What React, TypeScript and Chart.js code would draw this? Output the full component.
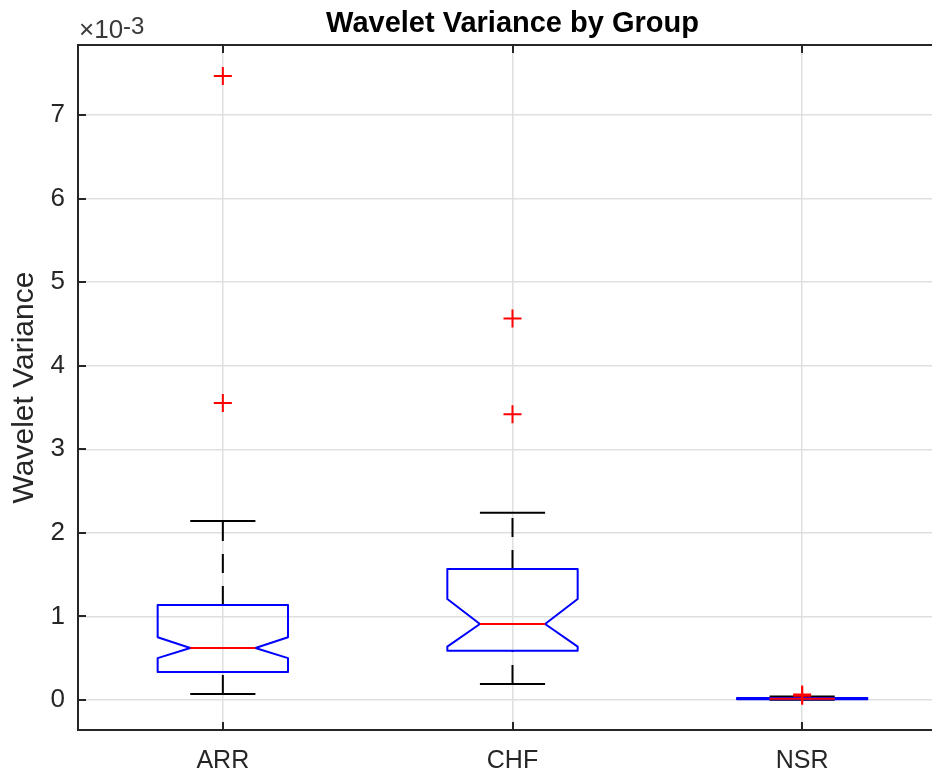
import React, { useEffect, useRef } from "react";
import { Chart, registerables } from "chart.js";

Chart.register(...registerables);

// ---- data (values in the data's own units; axis shows them ×10^-3) ----
const categories = ["ARR", "CHF", "NSR"];
const lowerWhisker = [0.072e-3, 0.191e-3, 0.002e-3];
const q1 = [0.335e-3, 0.59e-3, 0.008e-3];
const notchLow = [0.5e-3, 0.638e-3, 0.01e-3];
const median = [0.622e-3, 0.909e-3, 0.014e-3];
const notchHigh = [0.75e-3, 1.209e-3, 0.018e-3];
const q3 = [1.137e-3, 1.568e-3, 0.022e-3];
const upperWhisker = [2.142e-3, 2.241e-3, 0.04e-3];
const outliersARR = [7.47e-3, 3.554e-3];
const outliersCHF = [4.567e-3, 3.419e-3];
const outliersNSR = [0.05e-3, 0.065e-3];
const yTickLabels = [0, 1, 2, 3, 4, 5, 6, 7];

const FONT = '"Liberation Sans", Arial, Helvetica, sans-serif';
const AXIS_COLOR = "#262626";
const GRID_COLOR = "#dfdfdf";
const BOX_HALF = 0.225; // in category units

const outlierPoints = [
  ...outliersARR.map((v) => ({ x: 1, y: v })),
  ...outliersCHF.map((v) => ({ x: 2, y: v })),
  ...outliersNSR.map((v) => ({ x: 3, y: v })),
];

const boxPlugin = {
  id: "boxplotDraw",
  beforeDatasetsDraw(chart: any) {
    const { ctx, chartArea: a, scales } = chart;
    const x = scales.x;
    const y = scales.y;
    ctx.save();

    // axes box
    ctx.strokeStyle = AXIS_COLOR;
    ctx.lineWidth = 2;
    ctx.setLineDash([]);
    ctx.strokeRect(a.left, a.top, a.right - a.left, a.bottom - a.top);

    // inward ticks
    ctx.lineWidth = 2;
    yTickLabels.forEach((t) => {
      const py = Math.round(y.getPixelForValue(t * 1e-3));
      ctx.beginPath();
      ctx.moveTo(a.left, py);
      ctx.lineTo(a.left + 8, py);
      ctx.moveTo(a.right, py);
      ctx.lineTo(a.right - 8, py);
      ctx.stroke();
    });
    categories.forEach((_, i) => {
      const px = Math.round(x.getPixelForValue(i + 1));
      ctx.beginPath();
      ctx.moveTo(px, a.bottom);
      ctx.lineTo(px, a.bottom - 8);
      ctx.moveTo(px, a.top);
      ctx.lineTo(px, a.top + 8);
      ctx.stroke();
    });

    // box plots
    categories.forEach((_, i) => {
      const cx = x.getPixelForValue(i + 1);
      const hw = x.getPixelForValue(i + 1 + BOX_HALF) - cx;
      const yq1 = y.getPixelForValue(q1[i]);
      const yq3 = y.getPixelForValue(q3[i]);
      const ymed = y.getPixelForValue(median[i]);
      const ynl = y.getPixelForValue(notchLow[i]);
      const ynh = y.getPixelForValue(notchHigh[i]);
      const ylw = y.getPixelForValue(lowerWhisker[i]);
      const yuw = y.getPixelForValue(upperWhisker[i]);

      // whiskers (dashed, black)
      ctx.strokeStyle = "#000000";
      ctx.lineWidth = 2;
      ctx.setLineDash([19, 13]);
      ctx.beginPath();
      ctx.moveTo(cx, yq3);
      ctx.lineTo(cx, yuw);
      ctx.stroke();
      ctx.beginPath();
      ctx.moveTo(cx, ylw);
      ctx.lineTo(cx, yq1);
      ctx.stroke();
      ctx.setLineDash([]);
      // caps
      ctx.beginPath();
      ctx.moveTo(cx - hw / 2, yuw);
      ctx.lineTo(cx + hw / 2, yuw);
      ctx.moveTo(cx - hw / 2, ylw);
      ctx.lineTo(cx + hw / 2, ylw);
      ctx.stroke();

      // notched box
      ctx.strokeStyle = "#0000ff";
      ctx.lineWidth = 2;
      ctx.lineJoin = "round";
      ctx.beginPath();
      ctx.moveTo(cx - hw, yq1);
      ctx.lineTo(cx - hw, ynl);
      ctx.lineTo(cx - hw / 2, ymed);
      ctx.lineTo(cx - hw, ynh);
      ctx.lineTo(cx - hw, yq3);
      ctx.lineTo(cx + hw, yq3);
      ctx.lineTo(cx + hw, ynh);
      ctx.lineTo(cx + hw / 2, ymed);
      ctx.lineTo(cx + hw, ynl);
      ctx.lineTo(cx + hw, yq1);
      ctx.closePath();
      ctx.stroke();

      // median
      ctx.strokeStyle = "#ff0000";
      ctx.beginPath();
      ctx.moveTo(cx - hw / 2, ymed);
      ctx.lineTo(cx + hw / 2, ymed);
      ctx.stroke();
    });
    ctx.restore();
  },
  afterDraw(chart: any) {
    const { ctx, chartArea: a } = chart;
    ctx.save();
    // title
    ctx.fillStyle = "#000000";
    ctx.font = `bold 29px ${FONT}`;
    ctx.textAlign = "center";
    ctx.textBaseline = "alphabetic";
    ctx.fillText("Wavelet Variance by Group", (a.left + a.right) / 2, 32);
    // exponent label
    ctx.fillStyle = "#3a3a3a";
    ctx.textAlign = "left";
    ctx.font = `26px ${FONT}`;
    ctx.fillText("×10", a.left + 1, 38);
    const w = ctx.measureText("×10").width;
    ctx.font = `24px ${FONT}`;
    ctx.fillText("-3", a.left + 1 + w, 34);
    ctx.restore();
  },
};

export default function App() {
  const canvasRef = useRef<HTMLCanvasElement | null>(null);

  useEffect(() => {
    const canvas = canvasRef.current;
    if (!canvas) return;
    const chart = new Chart(canvas, {
      type: "scatter",
      data: {
        datasets: [
          {
            data: outlierPoints,
            pointStyle: "cross",
            radius: 9,
            hoverRadius: 9,
            borderColor: "#ff0000",
            backgroundColor: "#ff0000",
            borderWidth: 2,
            showLine: false,
          } as any,
        ],
      },
      options: {
        animation: false,
        responsive: false,
        devicePixelRatio: 1,
        events: [],
        layout: { padding: { left: 0, top: 45, right: 13, bottom: 0 } },
        plugins: {
          legend: { display: false },
          tooltip: { enabled: false },
          title: { display: false },
        },
        scales: {
          x: {
            type: "linear",
            min: 0.5,
            max: 3.5,
            afterBuildTicks: (s: any) => {
              s.ticks = categories.map((_, i) => ({ value: i + 1 }));
            },
            afterFit: (s: any) => {
              s.height = 42;
            },
            grid: { color: GRID_COLOR, lineWidth: 1.5, drawTicks: false },
            border: { display: false },
            ticks: {
              callback: (v: any) => categories[Math.round(Number(v)) - 1] ?? "",
              font: { family: FONT, size: 25 },
              color: AXIS_COLOR,
              padding: 16,
              autoSkip: false,
              maxRotation: 0,
            },
          },
          y: {
            type: "linear",
            min: -0.36e-3,
            max: 7.84e-3,
            afterBuildTicks: (s: any) => {
              s.ticks = yTickLabels.map((t) => ({ value: t * 1e-3 }));
            },
            afterFit: (s: any) => {
              s.width = 78;
            },
            grid: { color: GRID_COLOR, lineWidth: 1.5, drawTicks: false },
            border: { display: false },
            ticks: {
              callback: (v: any) => String(Math.round(Number(v) * 1000)),
              font: { family: FONT, size: 26 },
              color: AXIS_COLOR,
              padding: 13,
            },
            title: {
              display: true,
              text: "Wavelet Variance",
              font: { family: FONT, size: 30 },
              color: AXIS_COLOR,
              padding: { top: 7, bottom: 0 },
            },
          },
        },
      },
      plugins: [boxPlugin],
    });
    return () => chart.destroy();
  }, []);

  return (
    <div
      style={{
        position: "fixed",
        left: 0,
        top: 0,
        width: 932,
        height: 772,
        overflow: "hidden",
        background: "#ffffff",
      }}
    >
      <canvas ref={canvasRef} width={960} height={772} style={{ display: "block" }} />
    </div>
  );
}
